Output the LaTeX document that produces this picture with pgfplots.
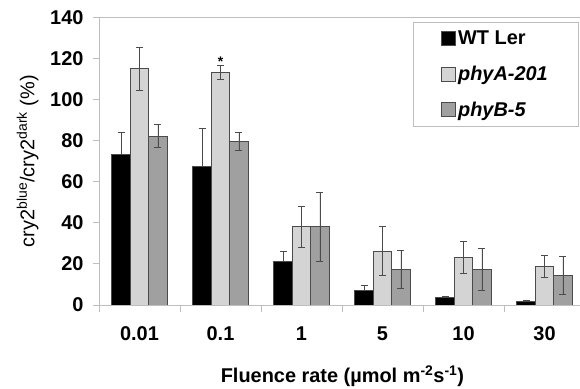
\documentclass[border=0pt]{standalone}
\usepackage{pgfplots}
\pgfplotsset{compat=1.18}
\usepackage{fontspec}
\setmainfont{Liberation Sans}
\definecolor{lg}{RGB}{212,212,212}
\definecolor{dg}{RGB}{160,160,160}
\definecolor{edge}{RGB}{75,75,75}
\definecolor{axc}{RGB}{190,190,190}
\begin{document}
\begin{tikzpicture}
\useasboundingbox (0,0) rectangle (580bp,389bp);
\begin{axis}[
  at={(99bp,84bp)}, anchor=south west,
  scale only axis, width=483bp, height=287.5bp,
  xmin=-0.5, xmax=5.463, ymin=0, ymax=140,
  ybar=0pt, bar width=0.228,
  axis line style={axc, line width=0.9bp},
  tick align=outside, xtick pos=bottom, ytick pos=left,
  xtick={0,...,5}, xticklabels={0.01,0.1,1,5,10,30},
  major x tick style={draw=none},
  minor xtick={-0.5,0.5,1.5,2.5,3.5,4.5},
  minor tick length=7bp, major tick length=6bp,
  every tick/.style={axc, line width=0.9bp},
  ytick={0,20,...,140},
  /pgf/number format/assume math mode=true,
  ticklabel style={font=\bfseries\fontsize{20}{24}\selectfont},
  xticklabel style={yshift=-12bp},
  yticklabel style={xshift=-6bp},
  xlabel={\bfseries Fluence rate (µmol m\textsuperscript{-2}s\textsuperscript{-1})},
  xlabel style={font=\fontsize{20}{24}\selectfont, at={(axis description cs:0.504,-0.247)}, anchor=center},
  ylabel={cry2\textsuperscript{blue}/cry2\textsuperscript{dark} (\%)},
  ylabel style={font=\fontsize{20}{24}\selectfont, at={(axis description cs:-0.148,0.5)}, anchor=center},
  legend style={at={(0.9917,0.984)}, anchor=north east, draw=axc, fill=white,
    font=\bfseries\fontsize{20}{24}\selectfont, inner xsep=28bp, inner ysep=6.5bp,
    row sep=16bp, cells={anchor=west}},
  legend image code/.code={\draw[#1, draw=edge, line width=0.8bp] (0bp,-7bp) rectangle (14bp,7bp);},
  error bars/error bar style={edge, line width=0.9bp},
  error bars/error mark options={edge, rotate=90, mark size=3.5bp, line width=0.9bp},
]
\addplot[fill=black, draw=edge, line width=0.8bp,
  error bars/.cd, y dir=plus, y explicit]
  coordinates {(0,73.2) +- (0,11) (1,67.5) +- (0,18.6) (2,21.4) +- (0,4.5)
               (3,7.0) +- (0,2.6) (4,3.6) +- (0,0.5) (5,1.9) +- (0,0.5)};
\addlegendentry{WT Ler}
\addplot[fill=lg, draw=edge, line width=0.8bp,
  error bars/.cd, y dir=both, y explicit]
  coordinates {(0,115.1) +- (0,10.5) (1,113.1) +- (0,3.5) (2,38.2) +- (0,10)
               (3,26.2) +- (0,12) (4,23.2) +- (0,7.6) (5,18.8) +- (0,5.5)};
\addlegendentry{\itshape phyA-201}
\addplot[fill=dg, draw=edge, line width=0.8bp,
  error bars/.cd, y dir=both, y explicit]
  coordinates {(0,82.2) +- (0,5.5) (1,79.7) +- (0,4.2) (2,38.2) +- (0,16.8)
               (3,17.5) +- (0,9.2) (4,17.2) +- (0,10.2) (5,14.3) +- (0,9.2)};
\addlegendentry{\itshape phyB-5}
\node[font=\bfseries\fontsize{14}{14}\selectfont, inner sep=0pt] at (axis cs:1,118.5) {*};
\end{axis}
\end{tikzpicture}
\end{document}
